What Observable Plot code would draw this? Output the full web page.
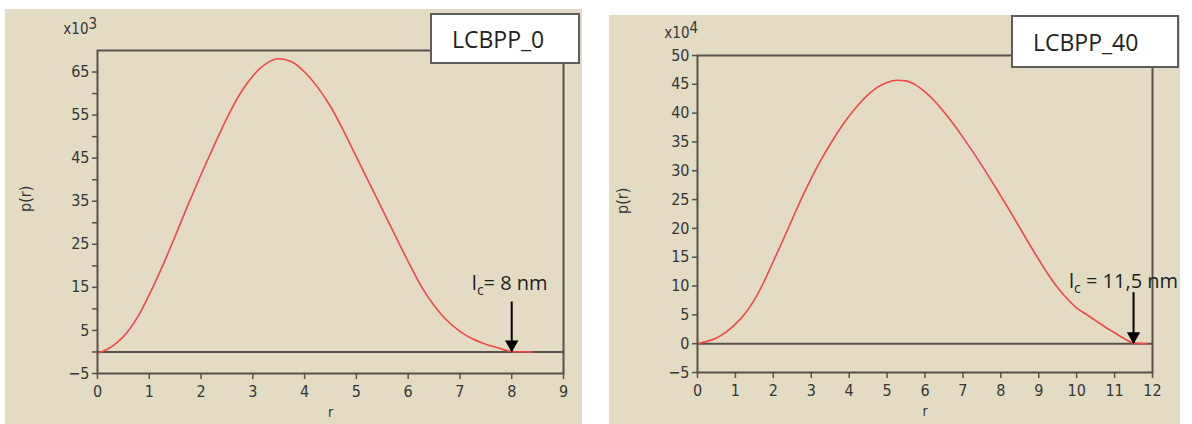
<!DOCTYPE html>
<html>
<head>
<meta charset="utf-8">
<script src="https://cdn.jsdelivr.net/npm/d3@7"></script>
<script src="https://cdn.jsdelivr.net/npm/@observablehq/plot@0.6"></script>
<style>
  body { margin: 0; background: #fff; width: 1192px; height: 424px; position: relative; overflow: hidden; }
  .panel { position: absolute; background: #e3dbc4; }
  .panel svg { position: absolute; left: 0; top: 0; }
  .tag { position: absolute; background: #fff; border: 2px solid #5d5d5d; box-sizing: border-box;
         font-family: "Open Sans", "Liberation Sans", sans-serif; font-size: 23px; color: #222;
         display: flex; align-items: center; padding-left: 20px; }
</style>
</head>
<body>
<div id="left" class="panel" style="left:5px;top:9px;width:577px;height:415px"></div>
<div id="right" class="panel" style="left:609px;top:15px;width:571px;height:409px"></div>
<div id="tagLeft" class="tag" style="left:430px;top:13px;width:150px;height:51px"></div>
<div id="tagRight" class="tag" style="left:1011px;top:15px;width:168px;height:53px"></div>
<script>
// ---- Data ----
const panelNames = ["LCBPP_0", "LCBPP_40"];
const axisTitleY = "p(r)";
const axisTitleX = "r";

// Left panel (x10^3)
const rLeft = [0, 0.2, 0.4, 0.6, 0.8, 1.0, 1.25, 1.5, 1.75, 2.0, 2.25, 2.5, 2.75, 3.0, 3.25, 3.5, 3.75, 4.0, 4.25, 4.5, 4.75, 5.0, 5.25, 5.5, 5.75, 6.0, 6.25, 6.5, 6.75, 7.0, 7.25, 7.5, 7.75, 8.0, 8.4];
const pLeft = [-0.3, 0.7, 2.4, 5.0, 8.6, 13.3, 19.8, 26.9, 34.2, 41.2, 47.9, 54.3, 59.9, 64.1, 66.9, 68.1, 67.4, 65.0, 61.5, 57.0, 51.4, 45.3, 39.2, 33.1, 27.0, 21.0, 15.3, 10.8, 7.3, 4.8, 3.0, 1.8, 0.9, 0.1, 0];
const xTicksLeft = [0, 1, 2, 3, 4, 5, 6, 7, 8, 9];
const yTicksLeft = [-5, 5, 15, 25, 35, 45, 55, 65];
const yMinorLeft = [0, 10, 20, 30, 40, 50, 60];
const xDomainLeft = [0, 9];
const yDomainLeft = [-5, 70];
const expLeft = ["x10", "3"];
const lcLeft = 8;
const lcLabelLeft = ["l", "c", "= 8 nm"];

// Right panel (x10^4)
const rRight = [0, 0.25, 0.5, 0.75, 1.0, 1.25, 1.5, 1.75, 2.0, 2.25, 2.5, 2.75, 3.0, 3.25, 3.5, 3.75, 4.0, 4.25, 4.5, 4.75, 5.0, 5.25, 5.5, 5.75, 6.0, 6.25, 6.5, 6.75, 7.0, 7.25, 7.5, 7.75, 8.0, 8.25, 8.5, 8.75, 9.0, 9.25, 9.5, 9.75, 10.0, 10.25, 10.5, 10.75, 11.0, 11.25, 11.5, 11.85];
const pRight = [0, 0.4, 1.0, 2.0, 3.4, 5.2, 7.6, 10.7, 14.3, 17.9, 21.6, 25.3, 28.7, 31.8, 34.6, 37.2, 39.5, 41.5, 43.2, 44.5, 45.3, 45.7, 45.6, 44.9, 43.7, 42.1, 40.2, 38.1, 35.8, 33.4, 30.9, 28.3, 25.6, 22.9, 20.1, 17.3, 14.6, 12.0, 9.7, 7.8, 6.2, 5.1, 4.0, 2.9, 1.9, 0.9, 0.1, 0];
const xTicksRight = [0, 1, 2, 3, 4, 5, 6, 7, 8, 9, 10, 11, 12];
const yTicksRight = [-5, 0, 5, 10, 15, 20, 25, 30, 35, 40, 45, 50];
const xDomainRight = [0, 12];
const yDomainRight = [-5, 50];
const expRight = ["x10", "4"];
const lcRight = 11.5;
const lcLabelRight = ["l", "c", " = 11,5 nm"];

// ---- Drawing ----
const INK = "#55524b";
const TICKFONT = "'DejaVu Sans Condensed', 'Liberation Sans Narrow', 'DejaVu Sans', sans-serif";

function panel(o) {
  const data = o.r.map((x, i) => ({r: x, p: o.p[i]}));
  const fullLabel = o.lcLabel.join("");
  const chart = Plot.plot({
    width: o.width, height: o.height,
    marginLeft: o.m[0], marginRight: o.m[1], marginTop: o.m[2], marginBottom: o.m[3],
    style: {background: "transparent", color: "#363636", fontFamily: TICKFONT, fontSize: "16px", overflow: "visible"},
    x: {domain: o.xDomain, label: null},
    y: {domain: o.yDomain, label: null},
    marks: [
      Plot.ruleY([0], {stroke: INK, strokeWidth: 2}),
      Plot.line(data, {x: "r", y: "p", stroke: "#f04848", strokeWidth: 1.6, curve: "monotone-x"}),
      Plot.frame({stroke: INK, strokeWidth: 2}),
      Plot.axisX({ticks: o.xTicks, tickSize: 6, tickPadding: 6, stroke: INK, strokeWidth: 1.5, label: null}),
      Plot.axisY({ticks: o.yTicks, tickSize: 5, tickPadding: 3, stroke: INK, strokeWidth: 1.5, label: null}),
      o.yMinor ? Plot.axisY({ticks: o.yMinor, tickSize: 5, tickFormat: () => "", stroke: INK, strokeWidth: 1.5, label: null}) : null,
      Plot.ruleX([o.lc], {x: d => d, y1: o.arrowTop, y2: 0, stroke: "#000", strokeWidth: 2}),
      Plot.dot([o.lc], {x: d => d, y: () => 0, symbol: "triangle", r: 5, fill: "#000", stroke: null, rotate: 180, dy: -7.5}),
      Plot.text([o.lc], {x: d => d, y: () => o.labelY, text: () => fullLabel,
        textAnchor: "middle", lineAnchor: "bottom", dx: o.labelDx, fontSize: 20,
        fontFamily: "'Open Sans', 'Liberation Sans', sans-serif", fill: "#1e1e1e"}),
      Plot.text([axisTitleY], {frameAnchor: "left", rotate: -90, dx: o.yTitleDx, fontSize: 16}),
      Plot.text([axisTitleX], {frameAnchor: "bottom", dy: 43, fontSize: 14}),
      Plot.text([o.exp[0]], {frameAnchor: "top-left", textAnchor: "end", lineAnchor: "bottom", dx: o.expDx, dy: o.expDy, fontSize: 15}),
      Plot.text([o.exp[1]], {frameAnchor: "top-left", textAnchor: "start", lineAnchor: "bottom", dx: o.expDx, dy: o.expDy - 5, fontSize: 15})
    ]
  });
  d3.select(chart).selectAll("text").filter(function () { return this.textContent === fullLabel; }).each(function () {
    const t = d3.select(this);
    t.text(null);
    t.append("tspan").text(o.lcLabel[0]);
    t.append("tspan").attr("dy", 5).attr("font-size", 14).text(o.lcLabel[1]);
    t.append("tspan").attr("dy", -5).text(o.lcLabel[2]);
  });
  return chart;
}

document.getElementById("left").append(panel({
  r: rLeft, p: pLeft, xDomain: xDomainLeft, yDomain: yDomainLeft,
  xTicks: xTicksLeft, yTicks: yTicksLeft, yMinor: yMinorLeft,
  width: 577, height: 415, m: [92, 19, 41, 51],
  lc: lcLeft, arrowTop: 11.6, labelY: 14.4, labelDx: -2, lcLabel: lcLabelLeft,
  yTitleDx: -72, exp: expLeft, expDx: -9, expDy: -17
}));
document.getElementById("right").append(panel({
  r: rRight, p: pRight, xDomain: xDomainRight, yDomain: yDomainRight,
  xTicks: xTicksRight, yTicks: yTicksRight, yMinor: null,
  width: 571, height: 409, m: [88, 28, 40, 52],
  lc: lcRight, arrowTop: 8.85, labelY: 9.7, labelDx: -10, lcLabel: lcLabelRight,
  yTitleDx: -75, exp: expRight, expDx: -8, expDy: -18
}));
document.getElementById("tagLeft").textContent = panelNames[0];
document.getElementById("tagRight").textContent = panelNames[1];
</script>
</body>
</html>
